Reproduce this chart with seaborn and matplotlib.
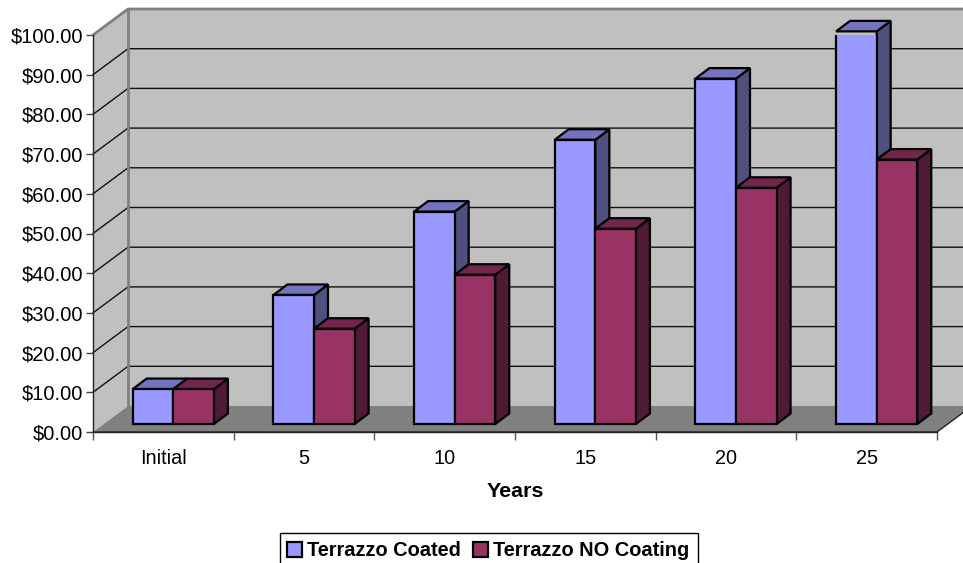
import numpy as np
import pandas as pd
import matplotlib
matplotlib.use('Agg')
import matplotlib.pyplot as plt
from matplotlib.patches import Polygon, Rectangle
from matplotlib.ticker import FixedLocator
from matplotlib.transforms import Affine2D, IdentityTransform
import seaborn as sns

years = ['Initial', '5', '10', '15', '20', '25']
coated = [8.8, 32.5, 53.5, 71.6, 87.0, 98.9]
no_coating = [8.8, 24.0, 37.6, 49.2, 59.5, 66.6]
series_names = ['Terrazzo Coated', 'Terrazzo NO Coating']
y_ticks = np.arange(0, 101, 10)

W, H = 963, 563
# depth of the wall and of the bars in pixels
WALL_DX, WALL_DY = 35, 26
BAR_DX, BAR_DY = 14, 10.5
BAR_SHIFT_X, BAR_SHIFT_Y = 10, 8

sns.set_theme(style='white')
plt.rcParams['font.family'] = ['Liberation Sans', 'DejaVu Sans']

df = pd.DataFrame({
    'Years': years * 2,
    'Cost': coated + no_coating,
    'Series': [series_names[0]] * len(years) + [series_names[1]] * len(years),
})

fig = plt.figure(figsize=(W / 100, H / 100), dpi=100, facecolor='white')
ax = fig.add_axes([93 / W, 1 - 432 / H, 844 / W, 397 / H])
ax.patch.set_visible(False)

colors = {series_names[0]: '#9999FF', series_names[1]: '#993366'}
sns.barplot(data=df, x='Years', y='Cost', hue='Series', palette=colors, order=years,
            hue_order=series_names, width=0.577, saturation=1, gap=0, edgecolor='black',
            linewidth=1.6, ax=ax)
ax.set_xlim(-0.5, 5.5)
ax.set_ylim(0, 100)

# 3D box: walls and floor, built from the axes corners
px = lambda x, y: ax.transData.transform((x, y))
x0, y0 = px(-0.5, 0)
x1, y1 = px(5.5, 0)
_, ytop = px(-0.5, 100)
ident = IdentityTransform()

def poly(points, face, edge='none', lw=0, z=1):
    p = Polygon(points, closed=True, facecolor=face, edgecolor=edge, linewidth=lw,
                zorder=z, joinstyle='miter')
    ax.add_patch(p)
    p.set_transform(ident)
    p.set_clip_on(False)
    return p

bx0, bx1 = x0 + WALL_DX, x1 + WALL_DX
by0, by1 = y0 + WALL_DY, ytop + WALL_DY
poly([(bx0, by0), (bx1, by0), (bx1, by1), (bx0, by1)], '#C0C0C0', z=0.5)
poly([(x0, y0), (bx0, by0), (bx0, by1), (x0, ytop)], '#C0C0C0', z=0.5)
poly([(x0, y0), (x1, y1), (bx1, by0), (bx0, by0)], '#808080', z=0.6)

for v in y_ticks[1:-1]:
    _, yy = px(-0.5, v)
    ax.plot([x0, bx0, bx1], [yy, yy + WALL_DY, yy + WALL_DY], color='#111111', lw=1.0,
            transform=ident, zorder=0.8, clip_on=False)
ax.plot([x0, bx0, bx1], [ytop, by1, by1], color='#808080', lw=2, transform=ident,
        zorder=0.8, clip_on=False)
ax.plot([bx0, bx0], [by0, by1], color='#808080', lw=2, transform=ident, zorder=0.8, clip_on=False)
ax.plot([x0, x1, bx1], [y0, y1, by0], color='#222222', lw=1.0, transform=ident, zorder=0.9,
        clip_on=False)

# shift front faces back and add side and top faces
shades = {0: ('#7373C0', '#4F4F80'), 1: ('#73264D', '#4F1A35')}
for i, cont in enumerate(ax.containers):
    top_col, side_col = shades[i]
    base_z = 3 + i * 2
    for bar in cont:
        bar.set_transform(ax.transData + Affine2D().translate(BAR_SHIFT_X, BAR_SHIFT_Y))
        bar.set_zorder(base_z + 1)
        bar.set_joinstyle('miter')
        xa, ya = px(bar.get_x(), 0)
        xb, yb = px(bar.get_x() + bar.get_width(), bar.get_height())
        xa, xb = xa + BAR_SHIFT_X, xb + BAR_SHIFT_X
        ya, yb = ya + BAR_SHIFT_Y, yb + BAR_SHIFT_Y
        poly([(xb, ya), (xb + BAR_DX, ya + BAR_DY), (xb + BAR_DX, yb + BAR_DY), (xb, yb)],
             side_col, 'black', 1.6, base_z)
        poly([(xa, yb), (xa + BAR_DX, yb + BAR_DY), (xb + BAR_DX, yb + BAR_DY), (xb, yb)],
             top_col, 'black', 1.6, base_z)

# axes
for name in ['top', 'right']:
    ax.spines[name].set_visible(False)
for name in ['left', 'bottom']:
    ax.spines[name].set_color('#222222')
    ax.spines[name].set_linewidth(1.0)
    ax.spines[name].set_zorder(1)

ax.set_yticks(y_ticks)
ax.set_yticklabels([f'${v:.2f}' for v in y_ticks], fontsize=14.5, color='black')
ax.tick_params(axis='y', left=True, length=5, width=1, color='#444444', pad=2)
ax.tick_params(axis='x', which='major', bottom=False, length=0, labelsize=14.3, pad=12,
               labelcolor='black')
ax.xaxis.set_minor_locator(FixedLocator(np.arange(-0.5, 6, 1)))
ax.tick_params(axis='x', which='minor', bottom=True, length=6, width=1, color='#555555')
ax.set_ylabel('')
ax.set_xlabel('Years', fontsize=15.4, fontweight='bold', labelpad=10, color='black')

# legend box runs past the bottom edge of the picture
box = Rectangle((280 / W, -5 / H), 418 / W, 35 / H, transform=fig.transFigure,
                facecolor='white', edgecolor='black', linewidth=1.0, zorder=9)
ax.add_artist(box)
box.set_clip_on(False)
leg = ax.legend(loc='lower left', bbox_to_anchor=(287 / W, 2.5 / H), bbox_transform=fig.transFigure,
                ncol=2, frameon=False, borderaxespad=0, borderpad=0, handlelength=0.75,
                handleheight=0.75, handletextpad=0.25, columnspacing=0.6,
                labelcolor='black',
                prop={'family': 'Liberation Sans', 'weight': 'bold', 'size': 14.4})
leg.set_zorder(10)

fig.savefig('out.png', dpi=100)
